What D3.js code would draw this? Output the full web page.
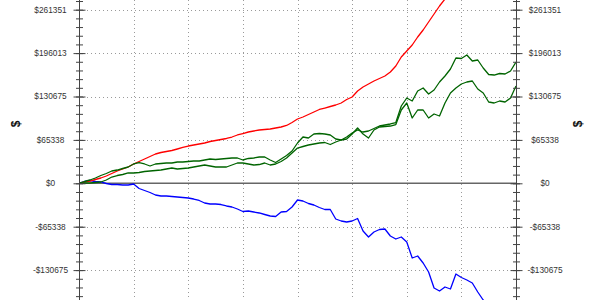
<!DOCTYPE html>
<html>
<head>
<meta charset="utf-8">
<script src="https://cdn.jsdelivr.net/npm/d3@7"></script>
<style>
  html, body { margin: 0; padding: 0; background: #fff; }
  svg { display: block; font-family: "Liberation Sans", Arial, sans-serif; }
</style>
</head>
<body>
<div id="chart"></div>
<script>
// y axis ticks (dollars) and their printed labels
const tickValues = [-130675, -65338, 0, 65338, 130675, 196013, 261351];
const tickLabels = ["-$130675", "-$65338", "$0", "$65338", "$130675", "$196013", "$261351"];
// vertical grid positions (period index)
const gridPeriods = [10, 20, 30, 40, 50, 60, 70];
const lastPeriod = 80;

// equity curves, one value per period, in $
const redSeries = [0, 2000, 3460, 5720, 7980, 10990, 14750, 18520, 21530, 24540,
  29060, 32820, 36580, 40350, 44110, 46370, 47870, 49380, 51640, 53900,
  56150, 57660, 59170, 60670, 62930, 64440, 65940, 67450, 69700, 72720,
  74970, 77230, 78740, 80240, 81000, 81750, 83250, 84760, 87020, 91530,
  96800, 99810, 103580, 107340, 111110, 113360, 115620, 117880, 120890, 126160,
  129920, 138960, 144980, 149500, 154010, 157780, 161540, 167560, 176600, 190140,
  199180, 208210, 220250, 230790, 242840, 254880, 266930, 277460, 288000];

const greenSeriesA = [0, 2710, 4970, 7980, 11740, 14750, 18520, 20020, 22280, 24540,
  29060, 31310, 29060, 26050, 29060, 29810, 30560, 30560, 32070, 32070,
  32820, 33570, 33570, 35080, 36580, 35830, 36580, 37340, 38090, 38090,
  35080, 37340, 38090, 39590, 39590, 35080, 31310, 36580, 41850, 48630,
  60670, 69700, 68200, 74220, 74970, 74220, 72720, 66690, 65190, 69700,
  75730, 80240, 77230, 78740, 82500, 86260, 87770, 89280, 91530, 116380,
  128420, 123900, 138960, 143470, 134440, 140460, 152510, 161540, 172080, 188640,
  187880, 193150, 184120, 185630, 173580, 163800, 163040, 165300, 164550, 169070,
  182620];

const greenSeriesB = [0, 450, 450, 1200, 1960, 4970, 9480, 11740, 13250, 15510,
  15510, 16260, 17760, 18520, 19270, 20020, 21530, 23030, 21530, 22280,
  23030, 24540, 26050, 27550, 26050, 24540, 24540, 24540, 27550, 30560,
  30560, 29060, 27550, 28300, 30560, 27550, 29060, 32820, 38090, 45620,
  53140, 55400, 57660, 59170, 60670, 61420, 58410, 62180, 65190, 66690,
  74220, 83250, 74220, 68200, 80240, 84760, 85510, 86260, 88520, 110350,
  120890, 98310, 110350, 110350, 98310, 104330, 101320, 120890, 135950, 143470,
  149500, 152510, 154010, 141970, 135950, 122400, 120890, 123900, 122400, 128420,
  146480];

const blueSeries = [0, 2710, 4220, 2710, 1960, -300, -1810, -1810, -2560, -2560,
  -1050, -7830, -10840, -13850, -17610, -19120, -19120, -19870, -20630, -21380,
  -22130, -23640, -25890, -29660, -31160, -31160, -31920, -34170, -35680, -38690,
  -42460, -41700, -43210, -44710, -46970, -49230, -49980, -43210, -42460, -35680,
  -25140, -26650, -30410, -32670, -36430, -39440, -39440, -53750, -56760, -58260,
  -56760, -52990, -71810, -80850, -73320, -69550, -68800, -79340, -83860, -80850,
  -88370, -112460, -109450, -119990, -133540, -157630, -162140, -156120, -159130, -136550,
  -141820, -145580, -150100, -163650, -175690, -186230];

const series = [
  { name: "blue", values: blueSeries, color: "#0000ff" },
  { name: "red", values: redSeries, color: "#ff0000" },
  { name: "greenB", values: greenSeriesB, color: "#006400" },
  { name: "greenA", values: greenSeriesA, color: "#006400" }
];

const width = 594, height = 300;
const left = 79, right = 516;

const svg = d3.select("#chart").append("svg")
  .attr("width", width)
  .attr("height", height);

const x = d3.scaleLinear().domain([0, lastPeriod]).range([left, right]);
const y = d3.scaleLinear().domain([tickValues[0], tickValues[tickValues.length - 1]]).range([270.1, 9.7]);

// minor ticks every fifth of a major step, across the whole visible height
const minorStep = tickValues[tickValues.length - 1] / 20;
const minorTicks = d3.range(Math.ceil(y.invert(height) / minorStep), Math.floor(y.invert(0) / minorStep) + 1)
  .map(k => k * minorStep);

svg.append("defs").append("clipPath").attr("id", "plot")
  .append("rect").attr("x", left).attr("y", 0).attr("width", right - left).attr("height", height);

// grid
const grid = svg.append("g").attr("clip-path", "url(#plot)");
grid.selectAll("line.vgrid")
  .data(gridPeriods)
  .join("line")
  .attr("class", "vgrid")
  .attr("x1", d => Math.round(x(d)) + 0.5).attr("x2", d => Math.round(x(d)) + 0.5)
  .attr("y1", 0).attr("y2", height)
  .attr("stroke", "#9a9a9a").attr("stroke-dasharray", "1,3");

grid.selectAll("line.hgrid")
  .data(tickValues.filter(v => v !== 0))
  .join("line")
  .attr("class", "hgrid")
  .attr("x1", left).attr("x2", right)
  .attr("y1", d => Math.round(y(d)) + 0.5).attr("y2", d => Math.round(y(d)) + 0.5)
  .attr("stroke", "#9a9a9a").attr("stroke-dasharray", "1,3");

grid.append("line")
  .attr("x1", left).attr("x2", right)
  .attr("y1", y(0)).attr("y2", y(0))
  .attr("stroke", "#666").attr("stroke-width", 1.5);

// curves
const line = d3.line()
  .x((d, i) => x(i))
  .y(d => y(d));

svg.append("g").attr("clip-path", "url(#plot)")
  .selectAll("path")
  .data(series)
  .join("path")
  .attr("fill", "none")
  .attr("stroke", d => d.color)
  .attr("stroke-width", 1.3)
  .attr("stroke-linejoin", "round")
  .attr("d", d => line(d.values));

// axes on both sides, ticks crossing the axis line
function drawAxis(xPos) {
  const g = svg.append("g").attr("transform", `translate(${xPos + 0.5},0)`);
  g.append("line").attr("y1", 0).attr("y2", height).attr("stroke", "#444");
  [d3.axisLeft, d3.axisRight].forEach(axisFn => {
    g.append("g").call(axisFn(y).tickValues(minorTicks).tickSize(3.5).tickFormat("").tickSizeOuter(0));
    g.append("g").call(axisFn(y).tickValues(tickValues).tickSize(6).tickFormat("").tickSizeOuter(0));
  });
  g.selectAll(".domain").remove();
  g.selectAll(".tick line").attr("stroke", "#444");
}
drawAxis(left);
drawAxis(right);

// tick labels
[50.5, 545].forEach(cx => {
  svg.append("g").selectAll("text")
    .data(tickValues)
    .join("text")
    .attr("x", cx)
    .attr("y", d => y(d))
    .attr("dy", "0.35em")
    .attr("text-anchor", "middle")
    .attr("font-size", "8.3px")
    .attr("fill", "#333")
    .text((d, i) => tickLabels[i]);
});

// axis titles
[16, 578].forEach(cx => {
  svg.append("text")
    .attr("transform", `translate(${cx},124) rotate(-90)`)
    .attr("text-anchor", "middle")
    .attr("dy", "0.35em")
    .attr("font-size", "12px")
    .attr("font-weight", "bold")
    .attr("fill", "#111")
    .text("$");
});
</script>
</body>
</html>
